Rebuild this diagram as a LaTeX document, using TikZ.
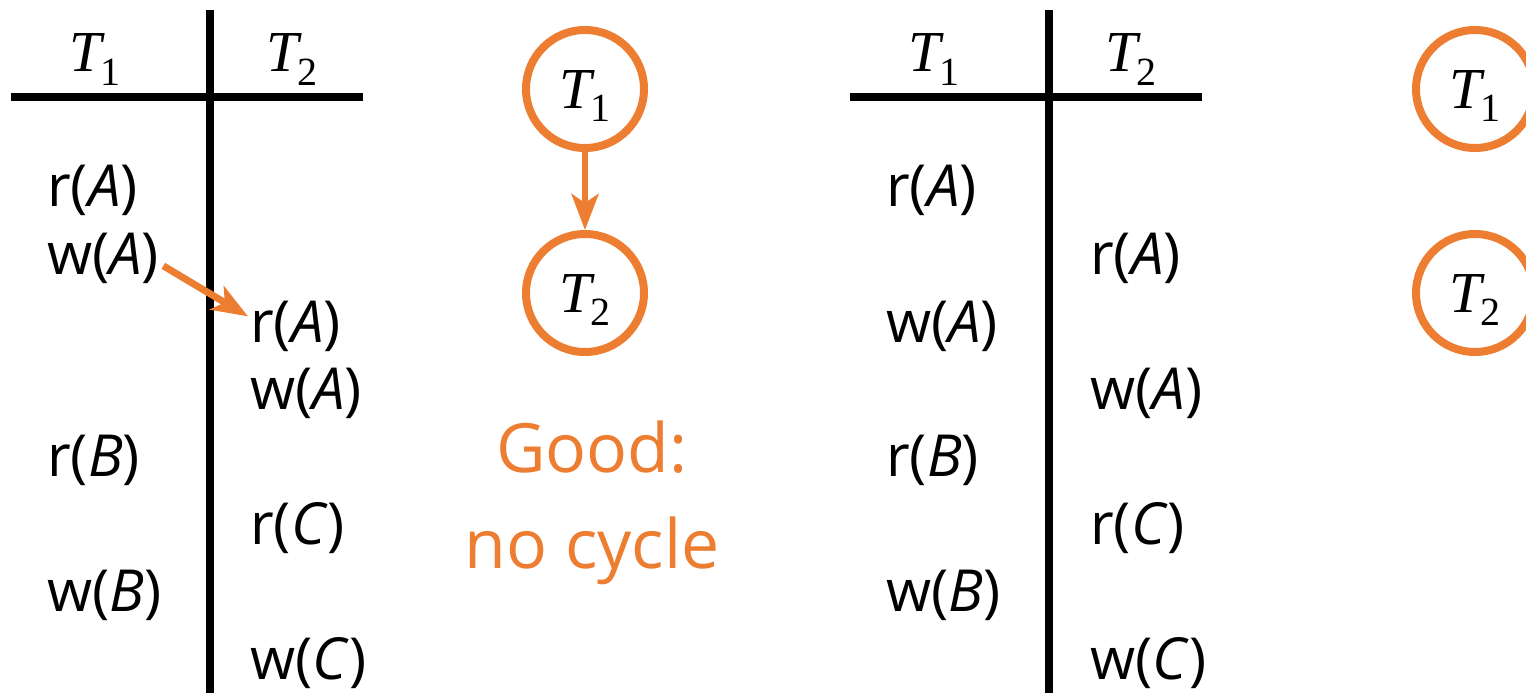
\documentclass[tikz,border=0pt]{standalone}
\usepackage{fontspec}
\setmainfont{Open Sans}
\newfontfamily\serifit{Liberation Serif}
\newcommand{\Tx}[1]{{\serifit\itshape T}\kern-0.02em\raisebox{-0.24em}{\serifit\fontsize{40}{40}\selectfont #1}}
\usetikzlibrary{arrows.meta,calc}
\definecolor{accent}{HTML}{ED7D31}
\tikzset{
  op/.style={anchor=base west,inner sep=0pt,font=\fontsize{58}{60}\selectfont},
  hdr/.style={anchor=base,inner sep=0pt,font=\fontsize{58}{60}\selectfont},
  rule/.style={line width=8pt,black},
  txnode/.style={circle,draw=accent,line width=8pt,minimum size=118pt,inner sep=0pt},
  txlab/.style={label={[font=\fontsize{58}{60}\selectfont,yshift=-7pt]center:#1}},
  edge/.style={accent,line width=7pt,-{Stealth[length=36pt,width=27pt,inset=9pt]}},
  note/.style={anchor=base,inner sep=0pt,text=accent,font=\fontsize{68}{72}\selectfont}
}
\begin{document}
\begin{tikzpicture}[x=1pt,y=-1pt]
\path[use as bounding box,clip] (0,0) rectangle (1526,693);
% table 1
\draw[rule] (11,97) -- (363,97);
\draw[rule] (210,10) -- (210,700);
\node[hdr] (h11) at (95,72) {\Tx{1}};
\node[hdr] (h12) at (292,72) {\Tx{2}};
\node[op] (a1) at (47,206) {r(\textit{A})};
\node[op] (a2) at (47,274) {w(\textit{A})};
\node[op] (a3) at (47,476) {r(\textit{B})};
\node[op] (a4) at (47,611) {w(\textit{B})};
\node[op] (b1) at (250,342) {r(\textit{A})};
\node[op] (b2) at (250,409) {w(\textit{A})};
\node[op] (b3) at (250,544) {r(\textit{C})};
\node[op] (b4) at (250,679) {w(\textit{C})};
\draw[edge] ($(a2.east)+(4,8)$) -- ($(b1.north west)+(-2,16)$);
% graph 1
\node[txnode,txlab=\Tx{1}] (g1) at (585,89) {};
\node[txnode,txlab=\Tx{2}] (g2) at (585,293) {};
\draw[edge,line width=6pt] (g1) -- (g2);
\node[note] (n1) at (592,472) {Good:};
\node[note] (n2) at (592,568) {no cycle};
% table 2
\draw[rule] (850,97) -- (1202,97);
\draw[rule] (1049,10) -- (1049,700);
\node[hdr] (h21) at (934,72) {\Tx{1}};
\node[hdr] (h22) at (1131,72) {\Tx{2}};
\node[op] (c1) at (886,206) {r(\textit{A})};
\node[op] (c2) at (886,342) {w(\textit{A})};
\node[op] (c3) at (886,476) {r(\textit{B})};
\node[op] (c4) at (886,611) {w(\textit{B})};
\node[op] (d1) at (1090,274) {r(\textit{A})};
\node[op] (d2) at (1090,409) {w(\textit{A})};
\node[op] (d3) at (1090,544) {r(\textit{C})};
\node[op] (d4) at (1090,679) {w(\textit{C})};
% graph 2
\node[txnode,txlab=\Tx{1}] (k1) at (1475,89) {};
\node[txnode,txlab=\Tx{2}] (k2) at (1475,293) {};
\end{tikzpicture}
\end{document}
